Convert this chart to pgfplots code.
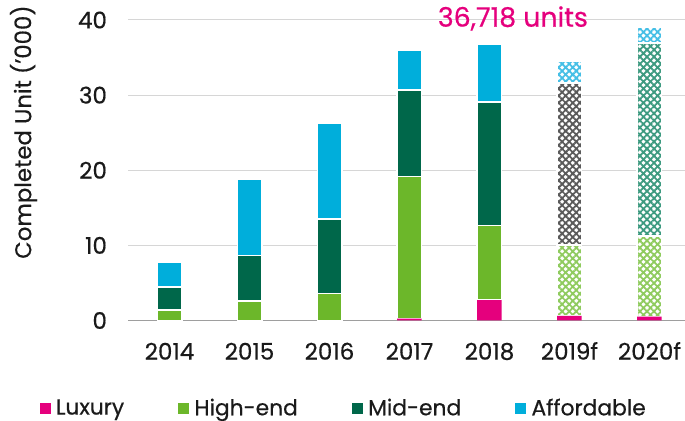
\documentclass[border=0pt]{standalone}
\usepackage{fontspec}
\setmainfont{Poppins}[FakeBold=0.5]
\usepackage{pgfplots}
\pgfplotsset{compat=1.18}
\usetikzlibrary{patterns.meta}
\definecolor{lux}{HTML}{E5007D}
\definecolor{high}{HTML}{6CB72A}
\definecolor{mid}{HTML}{00674A}
\definecolor{aff}{HTML}{00AEDB}
\definecolor{highp}{HTML}{8FCB5E}
\definecolor{midg}{HTML}{5A5A5A}
\definecolor{midt}{HTML}{3D9A80}
\definecolor{affp}{HTML}{45BFE6}
\definecolor{txt}{HTML}{1A1A1A}
\newcommand{\tf}{\fontsize{11.5}{13}\selectfont}
\newcommand{\lf}{\fontsize{10.9}{12}\selectfont}
\newcommand{\yf}{\fontsize{11.4}{13}\selectfont}
\begin{document}
\begin{tikzpicture}
\path[use as bounding box] (0,0) rectangle (342.5pt,210.5pt);
\begin{axis}[
  at={(64pt,50.25pt)}, anchor=south west,
  scale only axis, width=278.5pt, height=150.25pt,
  ybar stacked, bar width=12.25pt,
  xmin=-0.519, xmax=6.444, ymin=0, ymax=40,
  clip=false,
  axis line style={draw=none},
  major tick length=0pt,
  xtick={0,1,2,3,4,5,6},
  xticklabels={2014,2015,2016,2017,2018,2019f,2020f},
  ytick={10,20,30,40},
  extra y ticks={0},
  extra y tick style={grid style={draw=black!38, line width=0.6pt}},
  ymajorgrids,
  grid style={draw=black!16, line width=0.5pt},
  /pgf/number format/assume math mode=true,
  tick label style={font=\tf, text=txt},
  xticklabel style={anchor=north, inner sep=0pt, text height=8.6pt, yshift=-10.8pt},
  yticklabel style={anchor=east, xshift=-7pt},
  ylabel={Completed Unit ('000)},
  ylabel style={at={(axis description cs:-0.1876,0.627)}, anchor=center, font=\yf, text=txt},
  legend columns=4,
  legend style={draw=none, fill=none, inner sep=0pt, font=\lf, text=txt,
    at={(axis description cs:-0.1592,-0.2928)}, anchor=west,
    nodes={inner sep=0pt},
    /tikz/every odd column/.append style={column sep=2.65pt},
    /tikz/every even column/.append style={column sep=27.0pt}},
  legend cell align=left,
  legend image code/.code={\fill[#1, draw=none] (0pt,-2.75pt) rectangle (5.5pt,2.75pt);},
]
% solid series (2014-2018) and luxury
\addplot[fill=lux, draw=none] coordinates {(0,0) (1,0) (2,0) (3,0.25) (4,2.72) (5,0.6) (6,0.5)};
\addlegendentry{Luxury}
\addplot[fill=high, draw=white, line width=0.75pt] coordinates {(0,1.42) (1,2.59) (2,3.62) (3,18.95) (4,9.94) (5,0) (6,0)};
\addlegendentry{High-end}
\addplot[fill=mid, draw=white, line width=0.75pt] coordinates {(0,3.01) (1,6.08) (2,9.92) (3,11.45) (4,16.44) (5,0) (6,0)};
\addlegendentry{Mid-end}
\addplot[fill=aff, draw=white, line width=0.75pt] coordinates {(0,3.37) (1,10.19) (2,12.76) (3,5.32) (4,7.62) (5,0) (6,0)};
\addlegendentry{Affordable}
% forecast (hatched) series
\addplot[fill=white, draw=white, line width=0.75pt, postaction={pattern={Hatch[angle=45,distance=2.5pt,line width=0.9pt]}, pattern color=highp}] coordinates {(0,0) (1,0) (2,0) (3,0) (4,0) (5,9.44) (6,10.74)};
\addplot[fill=white, draw=white, line width=0.75pt, postaction={pattern={Hatch[angle=45,distance=2.5pt,line width=0.9pt]}, pattern color=midg}] coordinates {(0,0) (1,0) (2,0) (3,0) (4,0) (5,21.56) (6,0)};
\addplot[fill=white, draw=white, line width=0.75pt, postaction={pattern={Hatch[angle=45,distance=2.5pt,line width=0.9pt]}, pattern color=midt}] coordinates {(0,0) (1,0) (2,0) (3,0) (4,0) (5,0) (6,25.7)};
\addplot[fill=white, draw=white, line width=0.75pt, postaction={pattern={Hatch[angle=45,distance=2.5pt,line width=0.9pt]}, pattern color=affp}] coordinates {(0,0) (1,0) (2,0) (3,0) (4,0) (5,2.95) (6,2.06)};
\node[anchor=base, font=\fontsize{13.4}{15}\selectfont, text=lux, inner sep=0pt] at (axis cs:4.293,39.11) {36,718 units};
\end{axis}
\end{tikzpicture}
\end{document}
